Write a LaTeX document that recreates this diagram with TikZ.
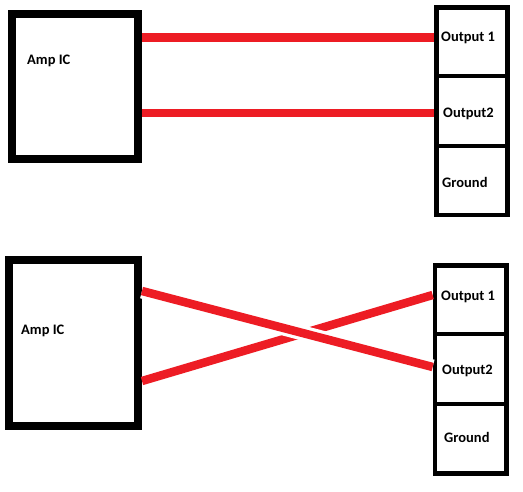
\documentclass[tikz,border=0pt]{standalone}
\usepackage{fontspec}
\setmainfont{Carlito}
\definecolor{pred}{HTML}{ED1C24}
\begin{document}
\begin{tikzpicture}[x=1pt,y=-1pt,
  ampbox/.style={draw=black,line width=8pt,inner sep=0pt,rectangle},
  cellbox/.style={draw=black,line width=4.7pt,inner sep=0pt,rectangle},
  lbl/.style={anchor=west,inner sep=0pt,font=\fontsize{14.5}{17}\selectfont\bfseries,text=black},
  wire/.style={draw=pred,line width=8.5pt},
  crosswire/.style={wire,preaction={draw=white,line width=15pt}}]
\fill[white] (0,0) rectangle (523,491);
\useasboundingbox (0,0) rectangle (523,491);
% ---------- top diagram ----------
\node[ampbox,minimum width=126pt,minimum height=145.5pt] (ampA) at (75,86.25) {};
\node[lbl] (tA) at (27,61) {Amp IC};
\node[cellbox,minimum width=71pt,minimum height=68.3pt] (a1) at (472,41.85) {};
\node[cellbox,minimum width=71pt,minimum height=70pt] (a2) at (472,111) {};
\node[cellbox,minimum width=71pt,minimum height=69pt] (a3) at (472,180.5) {};
\node[lbl] (la1) at (441,38) {Output 1};
\node[lbl] (la2) at (443,114) {Output2};
\node[lbl] (la3) at (442,182) {Ground};
\path[wire] (ampA.east |- 0,37.5) -- (a1.west |- 0,37.5);
\path[wire] (ampA.east |- 0,113) -- (a2.west |- 0,113);
% ---------- bottom diagram ----------
\node[ampbox,minimum width=129.3pt,minimum height=166pt] (ampB) at (73.35,343) {};
\node[lbl] (tB) at (21,330.7) {Amp IC};
\node[cellbox,minimum width=71.3pt,minimum height=68.7pt] (b1) at (470.65,299.65) {};
\node[cellbox,minimum width=71.3pt,minimum height=70pt] (b2) at (470.65,369) {};
\node[cellbox,minimum width=71.3pt,minimum height=69.3pt] (b3) at (470.65,438.65) {};
\node[lbl] (lb1) at (441,296.7) {Output 1};
\node[lbl] (lb2) at (442,370.7) {Output2};
\node[lbl] (lb3) at (444,437.7) {Ground};
\path[wire] (ampB.east |- 0,381) -- (b1.west |- 0,295);
\path[crosswire] (ampB.east |- 0,291) -- (b2.west |- 0,367);
\end{tikzpicture}
\end{document}
